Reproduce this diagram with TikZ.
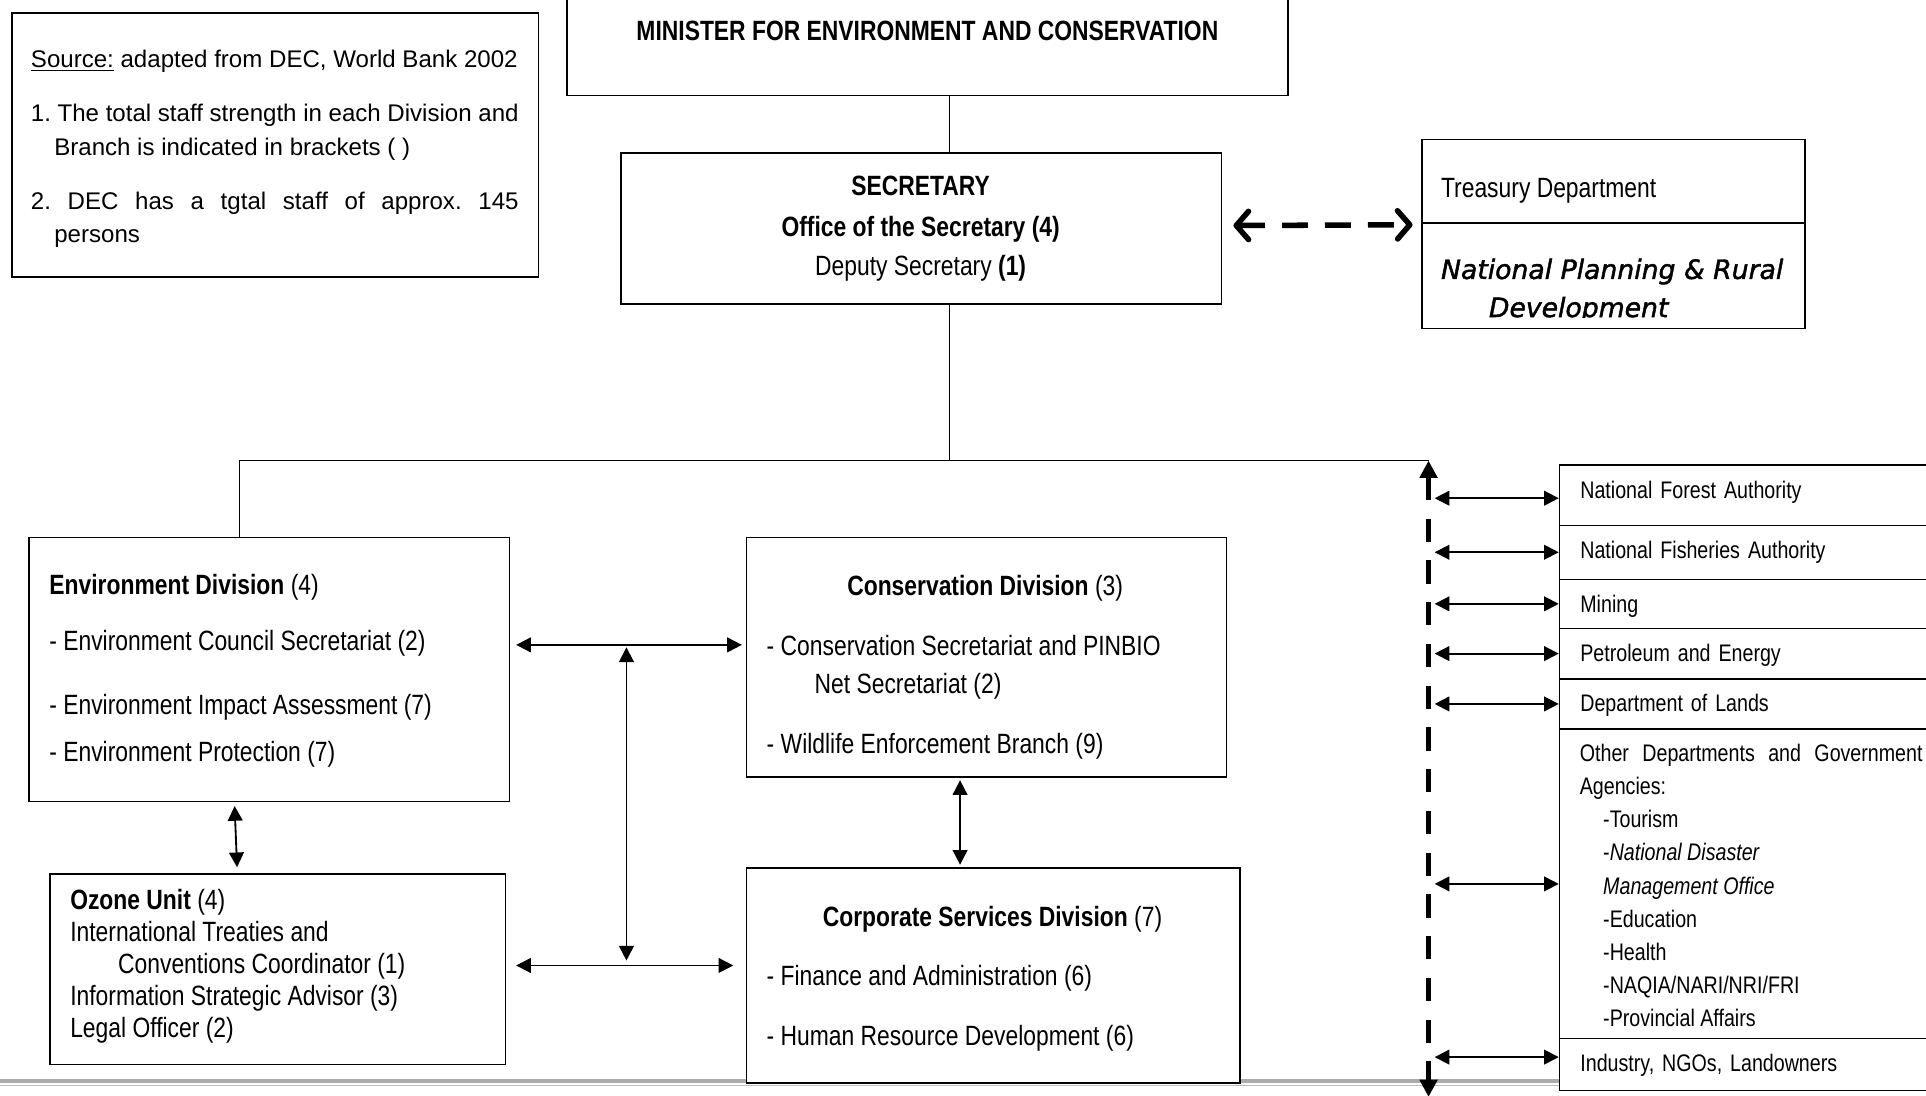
\documentclass[tikz,border=0pt]{standalone}
\usepackage{fontspec}
\setmainfont{Liberation Sans}[FakeStretch=0.82]
\newfontfamily\notefont{Liberation Sans}
\newfontfamily\planfont{DejaVu Sans}[FakeBold=1.6, ItalicFeatures={FakeBold=1.6}]
\usetikzlibrary{arrows.meta,positioning,calc}
\frenchspacing

\newcommand{\bodysize}{\fontsize{22.7}{26}\selectfont}
\newcommand{\rowsize}{\fontsize{19.5}{26.9}\selectfont}
\newcommand{\notesize}{\notefont\fontsize{19.6}{27}\selectfont}
\newcommand{\plansize}{\planfont\itshape\fontsize{21.7}{31}\selectfont}

\begin{document}
\begin{tikzpicture}[x=1pt, y=-1pt, font=\bodysize,
    box/.style={draw, line width=1.2pt, fill=white, inner sep=0pt, anchor=north west},
    rowbox/.style={box, text width=300pt, inner xsep=17pt, inner ysep=0pt, text height=27pt, font=\rowsize},
    txt/.style={inner sep=0pt, anchor=north west, align=left},
    link/.style={line width=1.2pt},
    biarrow/.style={line width=1.5pt, {Triangle[length=12pt,width=12pt]}-{Triangle[length=12pt,width=12pt]}},
    boundary/.style={line width=3.6pt, dash pattern=on 19pt off 15pt, {Triangle[length=14pt,width=14pt]}-{Triangle[length=14pt,width=14pt]}},
    chevron/.style={line width=4.5pt, dash pattern=on 21pt off 14pt, {Straight Barb[length=10pt,width=23pt,round]}-{Straight Barb[length=10pt,width=23pt,round]}}]
    \useasboundingbox (0,0) rectangle (1568,892);

    % page rule
    \draw[gray!65, line width=2.6pt] (0,880) -- (1568,880);
    \draw[gray!50, line width=0.9pt] (0,883.6) -- (1568,883.6);

    % Top of the chart
    \node[box, minimum width=429pt, minimum height=215pt] (note) at (9,10) {};
    \node[box, minimum width=587pt, minimum height=97pt] (minister) at (461,-20) {};
    \node[box, minimum width=489pt, minimum height=123pt] (sec) at (505,124) {};
    \node[box, minimum width=312pt, minimum height=68pt] (treas) at (1157,113) {};
    \node[box, minimum width=312pt, minimum height=86pt] (natplan) at (1157,181) {};

    % Divisions
    \node[box, minimum width=391pt, minimum height=215pt] (env) at (23,437) {};
    \node[box, minimum width=391pt, minimum height=195pt] (cons) at (607,437) {};
    \node[box, minimum width=371pt, minimum height=155pt] (ozone) at (40,711) {};
    \node[box, minimum width=402pt, minimum height=175pt] (corp) at (607,706) {};

    % Other agencies
    \node[rowbox, text depth=22pt] (nfa) at (1269,378) {\mbox{National Forest Authority}};
    \node[rowbox, text depth=17pt] (nfisa) at (1269,427) {\mbox{National Fisheries Authority}};
    \node[rowbox, text depth=13pt] (mining) at (1269,471) {Mining};
    \node[rowbox, text depth=14pt] (petro) at (1269,511) {\mbox{Petroleum and Energy}};
    \node[rowbox, text depth=14pt] (lands) at (1269,552) {\mbox{Department of Lands}};
    \node[box, minimum width=334pt, minimum height=252pt] (otherdep) at (1269,593) {};
    \node[rowbox, text depth=15pt] (industry) at (1269,845) {\mbox{Industry, NGOs, Landowners}};

    % Texts
    \node[txt, font=\notesize] (notetxt) at (25,36.1) {\strut\underline{Source:} adapted from DEC, World Bank 2002\\[17pt]
        \makebox[397pt][s]{1. The total staff strength in each Division and}\\
        \hspace*{19pt}Branch is indicated in brackets ( )\\[17pt]
        \makebox[397pt][s]{2. DEC has a tgtal staff of approx. 145}\\
        \hspace*{19pt}persons};
    \node[anchor=base, inner sep=0pt] (ministertxt) at (755,33.1) {\textbf{MINISTER FOR ENVIRONMENT AND CONSERVATION}};
    \node[txt, anchor=north, align=center] (sectxt) at (749.5,140.9) {\strut\textbf{SECRETARY}\\[7pt]
        \textbf{Office of the Secretary (4)}\\[6pt]Deputy Secretary \textbf{(1)}};
    \node[anchor=base west, inner sep=0pt] (treastxt) at (1173,161.1) {Treasury Department};
    \begin{scope}
        \clip (1157,181) rectangle (1469,258.5);
        \node[txt, font=\plansize] (plantxt) at (1173,205.2) {\strut National Planning \& Rural\\\hspace*{39pt}Development};
    \end{scope}
    \node[txt] (envtxt) at (40,465.9) {\strut\textbf{Environment Division} (4)\\[19pt]
        - Environment Council Secretariat (2)\\[26pt]
        - Environment Impact Assessment (7)\\[13pt]
        - Environment Protection (7)};
    \node[anchor=base, inner sep=0pt] (constitle) at (802,485.1) {\textbf{Conservation Division} (3)};
    \node[txt] (constxt) at (624,514.9) {\strut- Conservation Secretariat and PINBIO\\[5pt]
        \hspace*{39pt}Net Secretariat (2)\\[23pt]
        - Wildlife Enforcement Branch (9)};
    \node[txt] (ozonetxt) at (57,721.9) {\strut\textbf{Ozone Unit} (4)\\International Treaties and\\
        \hspace*{39pt}Conventions Coordinator (1)\\Information Strategic Advisor (3)\\Legal Officer (2)};
    \node[anchor=base, inner sep=0pt] (corptitle) at (808,754.1) {\textbf{Corporate Services Division} (7)};
    \node[txt] (corptxt) at (624,783.9) {\strut- Finance and Administration (6)\\[23pt]
        - Human Resource Development (6)};
    \node[txt, font=\rowsize] (othertxt) at (1286,601.2) {\strut\makebox[279pt][s]{Other Departments and Government}\\
        Agencies:\\
        \hspace*{19pt}-Tourism\\
        \hspace*{19pt}-\textit{National Disaster}\\
        \hspace*{19pt}\textit{Management Office}\\
        \hspace*{19pt}-Education\\
        \hspace*{19pt}-Health\\
        \hspace*{19pt}-NAQIA/NARI/NRI/FRI\\
        \hspace*{19pt}-Provincial Affairs};

    % Lines of command
    \coordinate (spine) at (773,375);
    \coordinate (envtap) at (195,375);
    \coordinate (dtop) at (1163,375);
    \coordinate (dbot) at (1163,893);
    \draw[link] (minister.south -| spine) -- (sec.north -| spine);
    \draw[link] (sec.south -| spine) -- (spine);
    \draw[link] (envtap |- env.north) -- (envtap) -- (dtop);
    \draw[boundary] (dtop) -- (dbot);
    \draw[chevron] ($(sec.east)+(9,-2.5)$) -- ($(natplan.north west)+(-7,2)$);

    % Links between divisions
    \coordinate (hubtop) at (510,525);
    \coordinate (hubbot) at (510,786);
    \draw[biarrow] ($(hubtop -| env.east)+(5,0)$) -- ($(hubtop -| cons.west)+(-3,0)$);
    \draw[biarrow] ($(hubbot -| ozone.east)+(8,0)$) -- ($(hubbot -| corp.west)+(-10,0)$);
    \draw[biarrow] ($(hubtop)+(0,2)$) -- ($(hubbot)+(0,-4)$);
    \draw[biarrow] ($(env.south west)+(168,3)$) -- ($(ozone.north west)+(153,-5)$);
    \draw[biarrow] ($(cons.south)+(-21.5,2)$) -- ($(corp.north)+(-27,-2)$);

    % Links to other agencies
    \draw[biarrow] ($(dtop |- nfa.west)+(5,2.5)$) -- ($(nfa.west)+(0,2.5)$);
    \draw[biarrow] ($(dtop |- nfisa.west)+(5,0)$) -- (nfisa.west);
    \draw[biarrow] ($(dtop |- mining.west)+(5,0)$) -- (mining.west);
    \draw[biarrow] ($(dtop |- petro.west)+(5,0)$) -- (petro.west);
    \draw[biarrow] ($(dtop |- lands.west)+(5,0)$) -- (lands.west);
    \draw[biarrow] ($(dtop |- otherdep.west)+(5,0)$) -- (otherdep.west);
    \draw[biarrow] ($(dtop |- industry.west)+(5,-6)$) -- ($(industry.west)+(0,-6)$);
\end{tikzpicture}
\end{document}
